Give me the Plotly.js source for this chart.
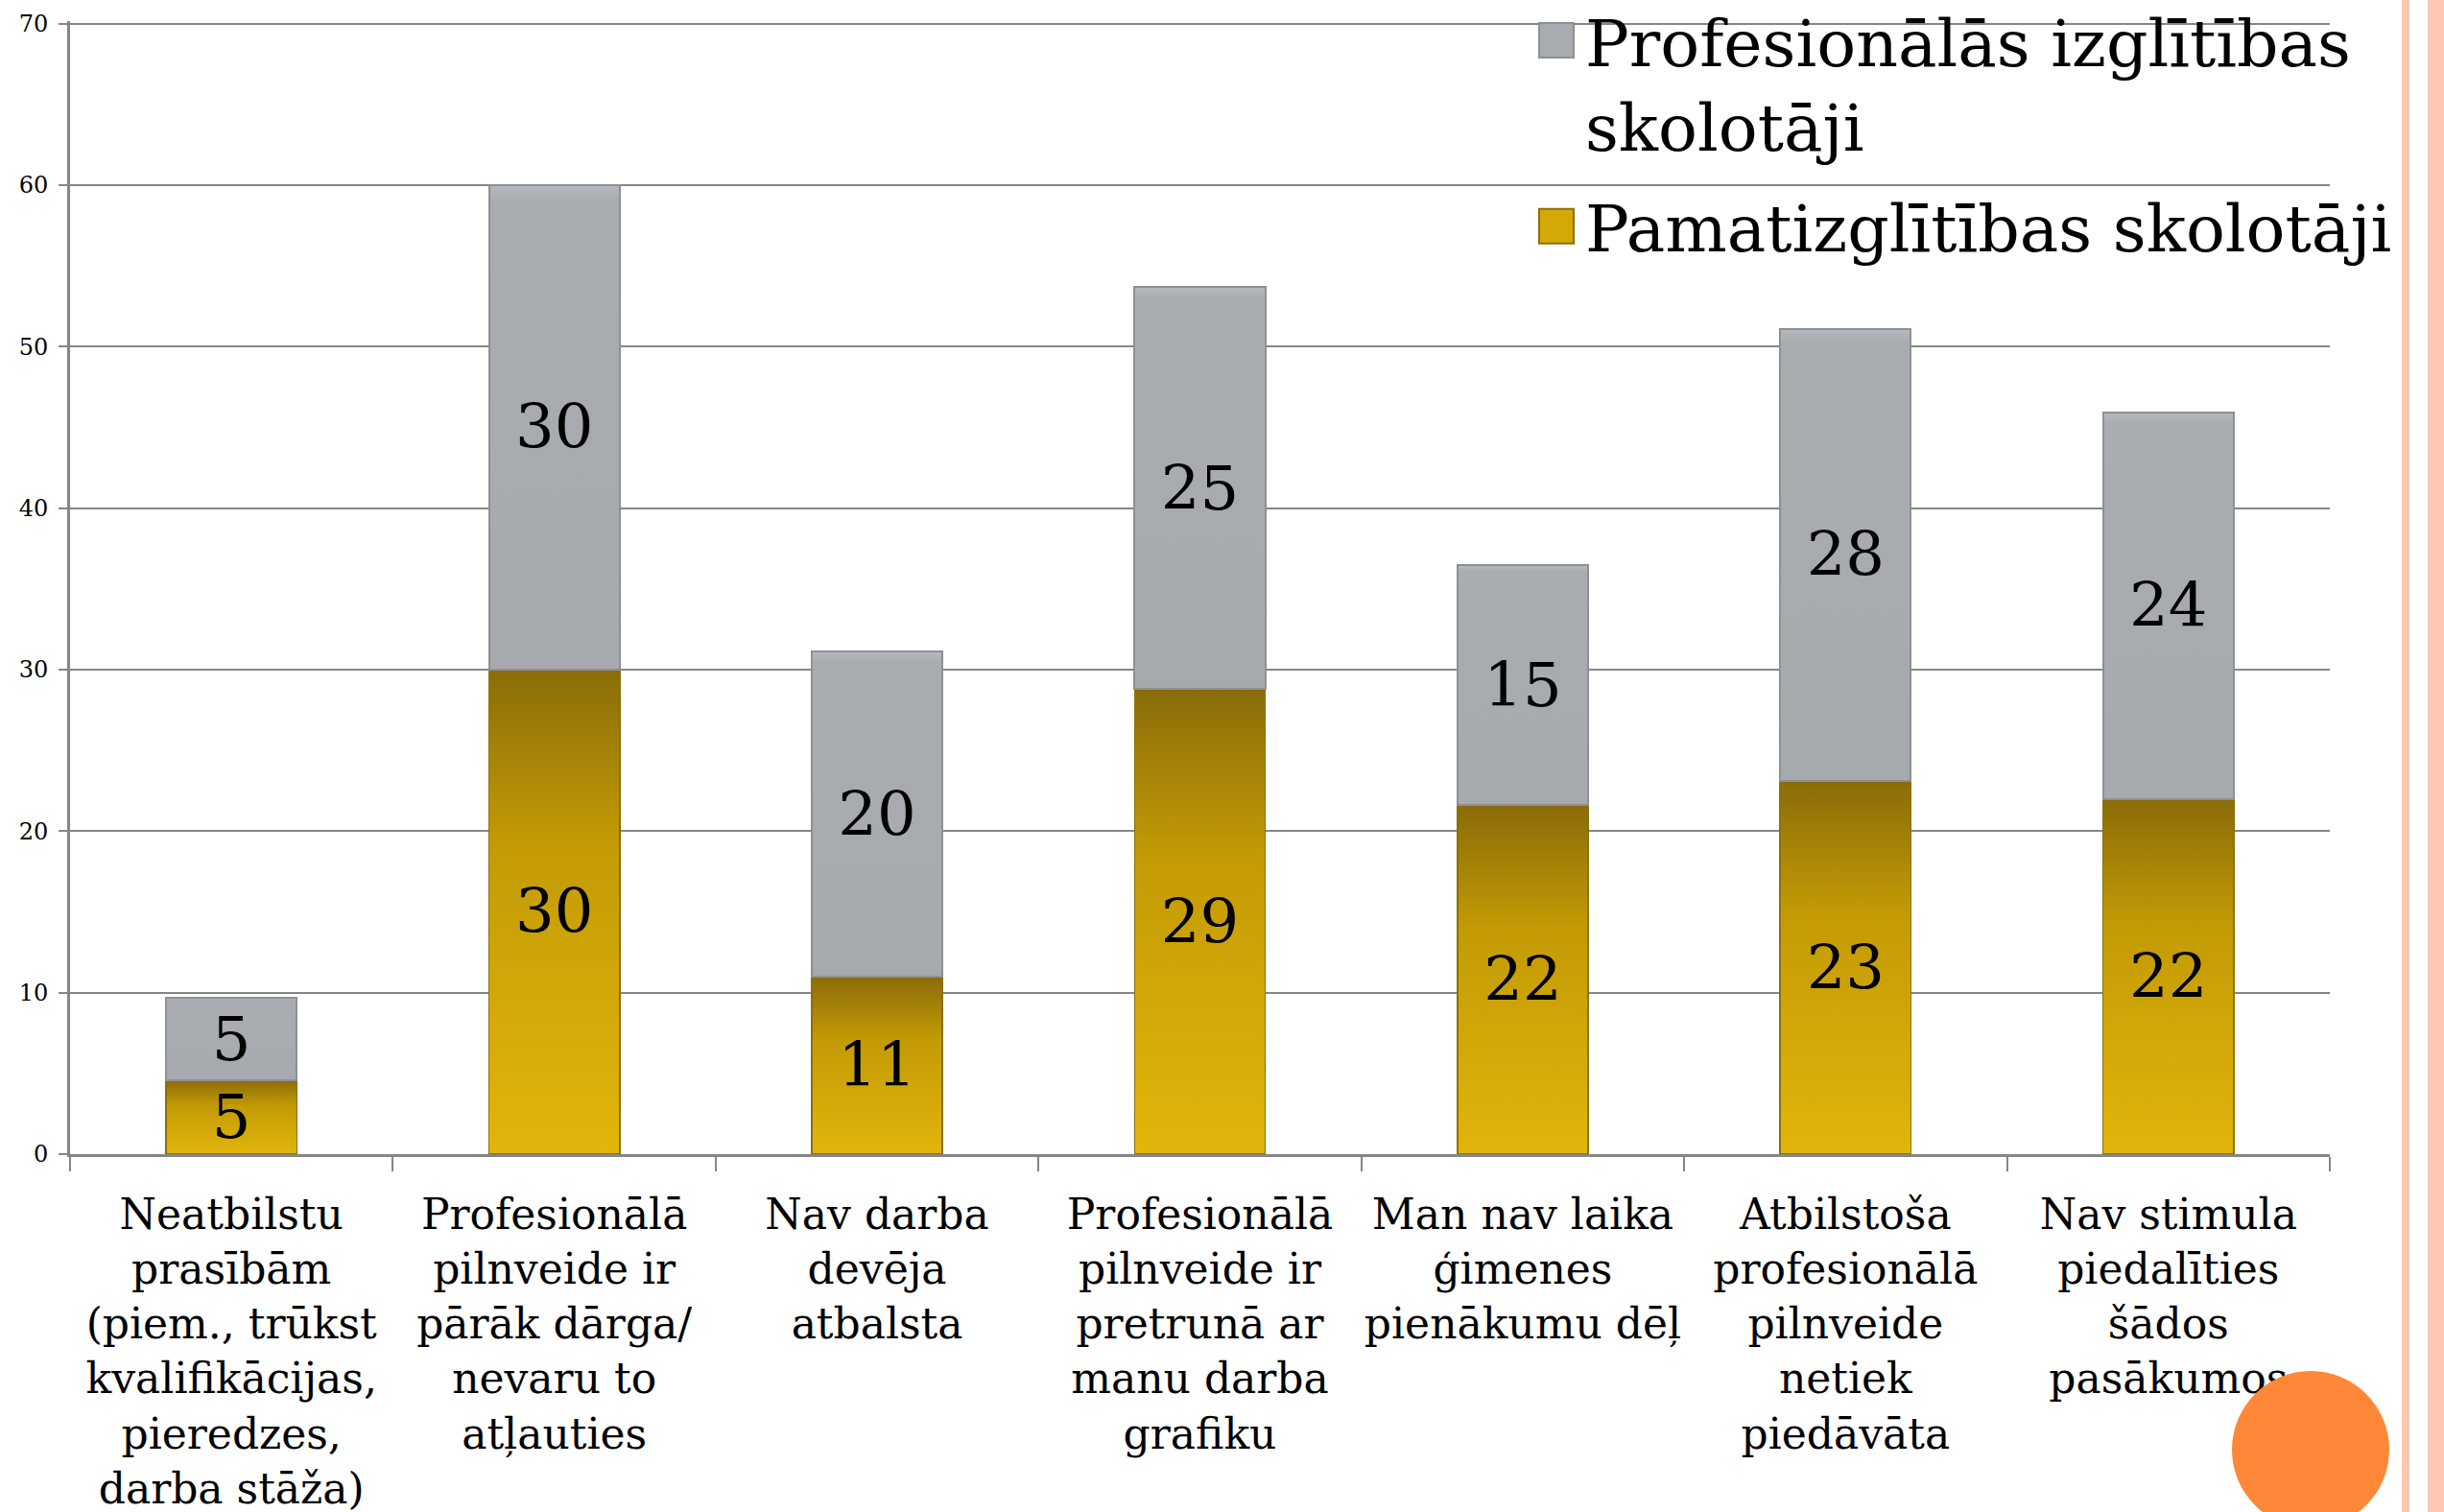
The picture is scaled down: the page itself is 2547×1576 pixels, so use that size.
<!DOCTYPE html>
<html>
<head>
<meta charset="utf-8">
<script src="https://cdn.plot.ly/plotly-3.0.1.min.js"></script>
<style>
  html, body { margin: 0; padding: 0; background: #ffffff; }
  #wrap { position: relative; width: 2547px; height: 1576px; overflow: hidden; background: #ffffff; }
  #chart { position: absolute; left: 0; top: 0; width: 2547px; height: 1576px; }
  .strip1 { position: absolute; left: 2503px; top: 0; width: 8px; height: 1576px; background: #FEC7B3; }
  .strip2 { position: absolute; left: 2530px; top: 0; width: 17px; height: 1576px; background: #FEC7B3; }
  .dot { position: absolute; left: 2326px; top: 1429px; width: 164px; height: 164px; border-radius: 50%; background: #FE8838; z-index: 5; }
</style>
</head>
<body>
<div id="wrap">
  <div id="chart"></div>
  <div class="strip1"></div>
  <div class="strip2"></div>
  <div class="dot"></div>
</div>
<script>
// Categories (x axis tick labels)
const categories = [
  "Neatbilstu<br>prasībām<br>(piem., trūkst<br>kvalifikācijas,<br>pieredzes,<br>darba stāža)",
  "Profesionālā<br>pilnveide ir<br>pārāk dārga/<br>nevaru to<br>atļauties",
  "Nav darba<br>devēja<br>atbalsta",
  "Profesionālā<br>pilnveide ir<br>pretrunā ar<br>manu darba<br>grafiku",
  "Man nav laika<br>ģimenes<br>pienākumu dēļ",
  "Atbilstoša<br>profesionālā<br>pilnveide<br>netiek<br>piedāvāta",
  "Nav stimula<br>piedalīties<br>šādos<br>pasākumos"
];

// Series values
const pamatizglitibas = [4.6, 30.0, 11.0, 28.8, 21.6, 23.1, 22.0];
const profesionalas   = [5.1, 30.0, 20.1, 24.9, 14.9, 28.0, 23.9];

// Series names
const seriesPamat = "Pamatizglītības skolotāji";
const seriesProf  = "Profesionālās izglītības<br>skolotāji";

// Y axis ticks
const yTicks = [0, 10, 20, 30, 40, 50, 60, 70];

const FONT = "DejaVu Serif, Liberation Serif, serif";
const gridGray = "#868686";

const traces = [
  {
    type: "bar",
    name: seriesPamat,
    legendgroup: "pamat",
    legendrank: 2,
    x: categories,
    y: pamatizglitibas,
    marker: { color: "#D4A807", line: { color: "#8C700A", width: 1.5 } },
    texttemplate: "%{y:.0f}",
    textposition: "inside",
    insidetextanchor: "middle",
    textangle: 0,
    constraintext: "none",
    textfont: { family: FONT, size: 64, color: "#000000" },
    hoverinfo: "skip"
  },
  {
    type: "bar",
    name: seriesProf,
    legendgroup: "prof",
    legendrank: 1,
    x: categories,
    y: profesionalas,
    marker: { color: "#A8ABB0", line: { color: "#8D9095", width: 2 } },
    texttemplate: "%{y:.0f}",
    textposition: "inside",
    insidetextanchor: "middle",
    textangle: 0,
    constraintext: "none",
    textfont: { family: FONT, size: 64, color: "#000000" },
    hoverinfo: "skip"
  }
];

const layout = {
  width: 2547,
  height: 1576,
  margin: { l: 73, r: 119, t: 22, b: 373, pad: 0, autoexpand: false },
  paper_bgcolor: "rgba(0,0,0,0)",
  plot_bgcolor: "rgba(0,0,0,0)",
  barmode: "stack",
  bargap: 0.595,
  showlegend: true,
  legend: {
    x: 0.645, xanchor: "left",
    y: 1.026, yanchor: "top",
    bgcolor: "rgba(0,0,0,0)",
    traceorder: "grouped",
    tracegroupgap: 14,
    valign: "top",
    font: { family: FONT, size: 68, color: "#000000" },
    itemwidth: 50
  },
  font: { family: FONT, color: "#000000" },
  xaxis: {
    type: "category",
    showgrid: false,
    showline: true,
    linecolor: gridGray,
    linewidth: 3,
    ticks: "outside",
    tickson: "boundaries",
    ticklen: 15,
    tickwidth: 2,
    tickcolor: gridGray,
    tickfont: { family: FONT, size: 44, color: "#000000" },
    ticklabelstandoff: 22,
    tickangle: 0,
    automargin: false
  },
  yaxis: {
    range: [0, 70.15],
    tickvals: yTicks,
    ticktext: yTicks.map(String),
    showgrid: true,
    gridcolor: gridGray,
    gridwidth: 2,
    zeroline: false,
    showline: true,
    linecolor: gridGray,
    linewidth: 3,
    ticks: "outside",
    ticklen: 9,
    tickwidth: 2,
    tickcolor: gridGray,
    tickfont: { family: FONT, size: 24, color: "#000000" },
    ticklabelstandoff: 6,
    automargin: false
  }
};

Plotly.newPlot("chart", traces, layout, { staticPlot: true, displayModeBar: false }).then(function (gd) {
  const svg = gd.querySelector("svg.main-svg");
  const ns = "http://www.w3.org/2000/svg";
  let defs = svg.querySelector("defs");
  if (!defs) { defs = document.createElementNS(ns, "defs"); svg.insertBefore(defs, svg.firstChild); }
  function grad(id, stops) {
    const g = document.createElementNS(ns, "linearGradient");
    g.setAttribute("id", id);
    g.setAttribute("x1", "0"); g.setAttribute("y1", "0");
    g.setAttribute("x2", "0"); g.setAttribute("y2", "1");
    stops.forEach(function (s) {
      const st = document.createElementNS(ns, "stop");
      st.setAttribute("offset", s[0]);
      st.setAttribute("stop-color", s[1]);
      g.appendChild(st);
    });
    defs.appendChild(g);
  }
  grad("goldGrad", [["0", "#8A6C09"], ["0.35", "#C29A05"], ["1", "#E2B50B"]]);
  grad("grayGrad", [["0", "#B6B9BD"], ["0.03", "#A9ACB1"], ["1", "#A6A9AE"]]);
  const groups = gd.querySelectorAll(".barlayer .trace");
  if (groups[0]) groups[0].querySelectorAll("path").forEach(function (p) { p.style.fill = "url(#goldGrad)"; });
  if (groups[1]) groups[1].querySelectorAll("path").forEach(function (p) { p.style.fill = "url(#grayGrad)"; });
  // enlarge legend swatches to match the reference
  gd.querySelectorAll(".legend .legendpoints path").forEach(function (p) {
    const t = p.getAttribute("transform") || "";
    p.setAttribute("transform", t + " scale(3)");
    p.style.strokeWidth = "0.7px";
  });
});
</script>
</body>
</html>
